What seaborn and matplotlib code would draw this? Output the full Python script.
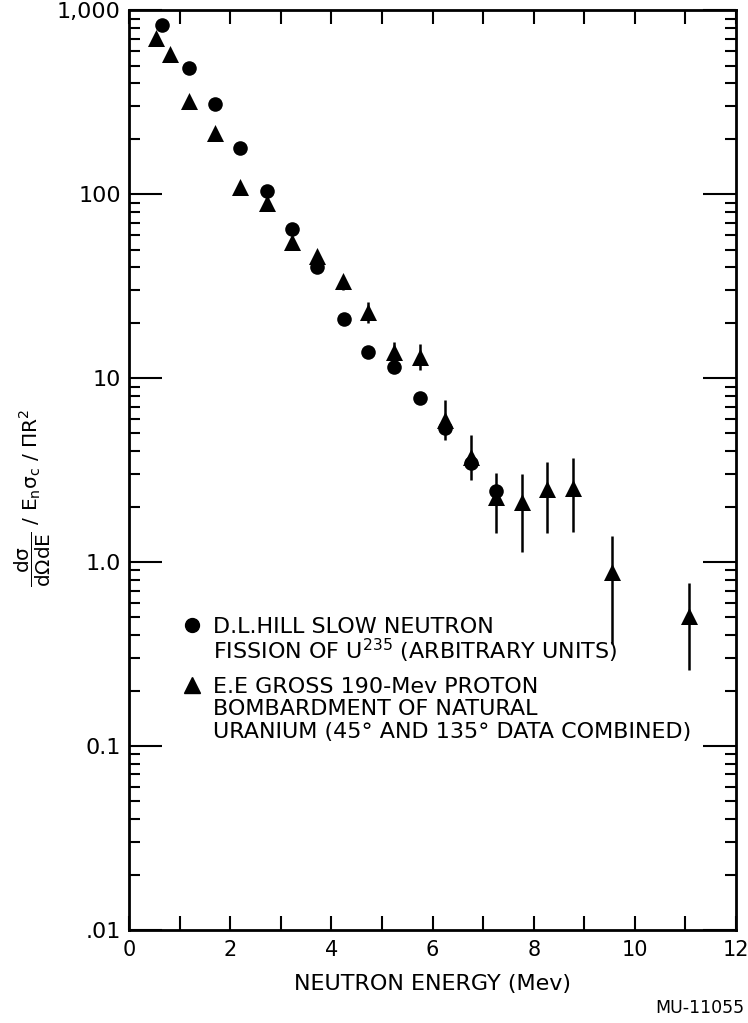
import numpy as np
import pandas as pd
import matplotlib
matplotlib.use("Agg")
import matplotlib.pyplot as plt
from matplotlib.lines import Line2D
from matplotlib.ticker import LogLocator, NullFormatter, MultipleLocator
import seaborn as sns

# ---- data ----
hill_energy = [0.65, 1.18, 1.70, 2.20, 2.72, 3.23, 3.72, 4.25, 4.72, 5.24, 5.75, 6.24, 6.77, 7.26]
hill_value = [829, 484, 308, 178, 104, 65, 40, 20.9, 13.8, 11.5, 7.8, 5.35, 3.45, 2.43]

gross_energy = [0.53, 0.81, 1.18, 1.69, 2.20, 2.72, 3.23, 3.72, 4.23, 4.72, 5.24, 5.75,
                6.24, 6.77, 7.26, 7.76, 8.26, 8.77, 9.55, 11.07]
gross_value = [705, 577, 320, 215, 109, 89, 55, 46, 33.6, 22.9, 13.8, 13.0,
               5.9, 3.72, 2.25, 2.12, 2.49, 2.52, 0.88, 0.51]
gross_low = [None, None, None, None, None, None, None, None, 30.3, 20.0, 13.0, 11.0,
             4.6, 2.79, 1.44, 1.13, 1.44, 1.45, 0.36, 0.26]
gross_high = [None, None, None, None, None, None, None, None, 33.6, 26.0, 15.7, 15.3,
              7.6, 4.9, 3.05, 3.0, 3.5, 3.67, 1.38, 0.77]

y_ticks = [0.01, 0.1, 1.0, 10, 100, 1000]
y_ticklabels = [".01", "0.1", "1.0", "10", "100", "1,000"]
x_ticks = [0, 2, 4, 6, 8, 10, 12]
x_ticklabels = ["0", "2", "4", "6", "8", "10", "12"]

legend_lines_hill = ["D.L.HILL SLOW NEUTRON", "FISSION OF U$^{235}$ (ARBITRARY UNITS)"]
legend_lines_gross = ["E.E GROSS 190-Mev PROTON", "BOMBARDMENT OF NATURAL",
                      "URANIUM (45° AND 135° DATA COMBINED)"]

hill = pd.DataFrame({"energy": hill_energy, "value": hill_value})
gross = pd.DataFrame({"energy": gross_energy, "value": gross_value,
                      "low": gross_low, "high": gross_high})

# ---- figure ----
sns.set_style("ticks")
plt.rcParams["font.family"] = ["DejaVu Sans"]
plt.rcParams["mathtext.fontset"] = "dejavusans"
for k in ["text.color", "axes.labelcolor", "xtick.color", "ytick.color", "axes.edgecolor"]:
    plt.rcParams[k] = "black"

fig = plt.figure(figsize=(7.48, 10.23), dpi=100)
ax = fig.add_axes([0.1725, 0.091, 0.8115, 0.899])

# error bars
eb = gross.dropna()
ax.vlines(eb["energy"], eb["low"].astype(float), eb["high"].astype(float),
          colors="black", linewidth=1.8, zorder=2)

sns.scatterplot(data=hill, x="energy", y="value", marker="o", s=110,
                color="black", edgecolor="black", linewidth=0, ax=ax, zorder=3)
sns.scatterplot(data=gross, x="energy", y="value", marker="^", s=150,
                color="black", edgecolor="black", linewidth=0, ax=ax, zorder=3)

ax.set_yscale("log")
ax.set_xlim(0, 12)
ax.set_ylim(0.01, 1000)

ax.set_yticks(y_ticks)
ax.set_yticklabels(y_ticklabels)
ax.yaxis.set_minor_locator(LogLocator(base=10, subs=np.arange(2, 10)))
ax.yaxis.set_minor_formatter(NullFormatter())
ax.set_xticks(x_ticks)
ax.set_xticklabels(x_ticklabels)
ax.xaxis.set_minor_locator(MultipleLocator(1))

ax.tick_params(axis="both", which="both", direction="in", top=True, right=True,
               color="black", width=1.5)
ax.tick_params(axis="y", which="major", length=24, labelsize=16, pad=6)
ax.tick_params(axis="y", which="minor", length=8)
ax.tick_params(axis="x", which="major", length=10, labelsize=15, pad=7)
ax.tick_params(axis="x", which="minor", length=10)
for sp in ax.spines.values():
    sp.set_linewidth(2)
    sp.set_color("black")

ax.set_xlabel("NEUTRON ENERGY (Mev)", fontsize=16, labelpad=10)
ax.set_ylabel(r"$\mathregular{\dfrac{d\sigma}{d\Omega dE}\ /\ E_n\sigma_c\ /\ \Pi R^2}$",
              fontsize=14.5)
ax.yaxis.set_label_coords(-0.125, 0.47)

# legends
def blank():
    return Line2D([], [], linestyle="none", marker="")

h1 = [Line2D([], [], linestyle="none", marker="o", color="black", markersize=10), blank()]
leg1 = ax.legend(h1, legend_lines_hill, loc="upper left", bbox_to_anchor=(0.07, 0.35),
                 frameon=False, fontsize=16, handlelength=1.0, handletextpad=0.45,
                 labelspacing=0.0, borderaxespad=0)
ax.add_artist(leg1)
h2 = [Line2D([], [], linestyle="none", marker="^", color="black", markersize=11), blank(), blank()]
ax.legend(h2, legend_lines_gross, loc="upper left", bbox_to_anchor=(0.07, 0.285),
          frameon=False, fontsize=16, handlelength=1.0, handletextpad=0.45,
          labelspacing=0.12, borderaxespad=0)

fig.text(0.995, 0.0147, "MU-11055", ha="right", va="center", fontsize=12.5)

fig.savefig("out.png", dpi=100)
